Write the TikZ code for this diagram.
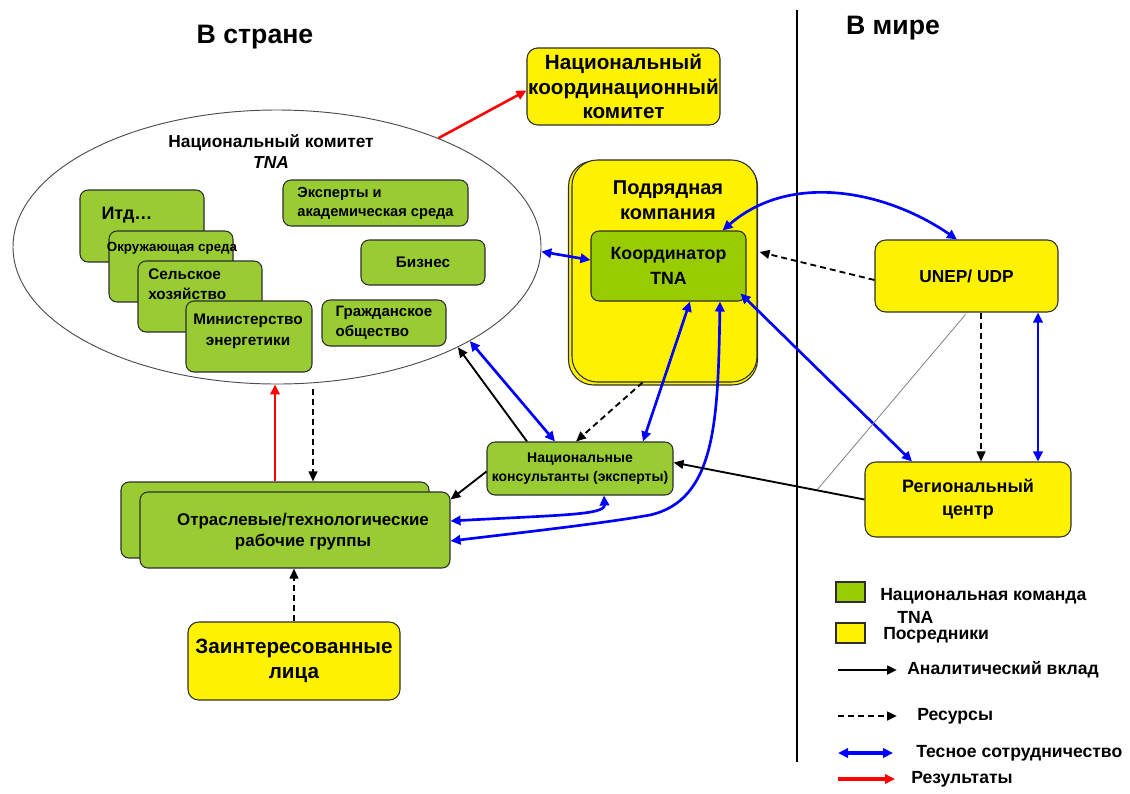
\documentclass[tikz,border=0pt]{standalone}
\usepackage{fontspec}
\setmainfont{Liberation Sans}
\usetikzlibrary{shapes.geometric,arrows.meta,calc}
\definecolor{tnagreen}{RGB}{153,204,51}
\definecolor{coordgreen}{RGB}{153,204,0}
\definecolor{edge}{RGB}{45,45,45}
\def\fs#1#2{\bfseries\fontsize{#1}{#2}\selectfont}
\tikzset{
  box/.style={draw=edge,line width=0.8pt,rounded corners=6pt,inner sep=0pt,align=center},
  gbox/.style={box,fill=tnagreen},
  ybox/.style={box,fill=yellow,rounded corners=8pt},
  headline/.style={font=\fs{20}{24}},
  legtxt/.style={anchor=west,inner sep=0pt,align=left,font=\fs{13.2}{17.25}},
  legsq/.style={draw=edge,line width=0.8pt,minimum width=21.75pt,minimum height=15pt,inner sep=0pt},
  ana/.style={-{Triangle[length=7.5pt,width=6.5pt]},line width=1.4pt},
  res/.style={ana,dash pattern=on 4.5pt off 3pt},
  coop/.style={{Triangle[length=7.5pt,width=7pt]}-{Triangle[length=7.5pt,width=7pt]},line width=2pt,blue},
  result/.style={-{Triangle[length=7.5pt,width=7pt]},line width=1.9pt,red},
}
\begin{document}
\begin{tikzpicture}[x=0.75pt,y=-0.75pt]
  \useasboundingbox (0,0) rectangle (1130,793);
  \node[headline] (home) at (255,37) {В стране};
  \node[headline] (world) at (893,28) {В мире};
  \coordinate (vtop) at (797,10);
  \coordinate (vbot) at (797,762);
  \draw[line width=1.2pt] (vtop) -- (vbot);

  \node[draw=edge!85,line width=0.7pt,ellipse,minimum width=396pt,minimum height=205.5pt,inner sep=0pt] (nc) at (277,247) {};
  \node[font=\fs{13}{15.75},align=center] (nctitle) at (271,152) {Национальный комитет\\\itshape TNA};
  \node[gbox,minimum width=93pt,minimum height=54pt] (itd) at (142,226) {};
  \node[font=\fs{13.5}{16}] (itdtext) at (127,215) {Итд…};
  \node[gbox,minimum width=93pt,minimum height=53.25pt] (env) at (171,266.5) {};
  \node[font=\fs{10}{12}] (envtext) at (172,248) {Окружающая среда};
  \node[gbox,minimum width=93pt,minimum height=53.25pt] (agri) at (200,296.5) {};
  \node[font=\fs{11.5}{15},align=left,anchor=west,inner sep=0pt] (agritext) at (148,284) {Сельское\\хозяйство};
  \node[gbox,minimum width=94.5pt,minimum height=53.25pt] (energy) at (249,336.5) {};
  \node[font=\fs{11.5}{15.75},align=center] (energytext) at (248,331.5) {Министерство\\энергетики};
  \node[gbox,minimum width=138.75pt,minimum height=34.5pt,align=left,font=\fs{11}{14.25}] (exp) at (375.5,203) {Эксперты и\\академическая среда};
  \node[gbox,minimum width=93pt,minimum height=33.75pt,font=\fs{11.5}{14}] (biz) at (423,262.5) {Бизнес};
  \node[gbox,minimum width=93pt,minimum height=34.5pt,align=left,font=\fs{11.3}{15}] (civ) at (384,323) {Гражданское\\общество};

  \node[ybox,minimum width=144.75pt,minimum height=57.75pt,font=\fs{15.5}{18.4}] (ncc) at (623.5,86.5) {Национальный\\координационный\\комитет};
  \node[ybox,rounded corners=19pt,minimum width=141.75pt,minimum height=168pt] (contrb) at (663,273) {};
  \node[ybox,rounded corners=19pt,minimum width=138.75pt,minimum height=166.5pt] (contr) at (664.5,271) {};
  \node[font=\fs{15}{18.75},align=center] (contrtitle) at (668,200.5) {Подрядная\\компания};
  \node[gbox,fill=coordgreen,minimum width=116.25pt,minimum height=52.5pt,font=\fs{13.3}{18.75}] (coord) at (668.5,266) {Координатор\\TNA};
  \node[ybox,minimum width=137.25pt,minimum height=54pt,font=\fs{13}{16}] (unep) at (966.5,276) {UNEP/ UDP};
  \node[ybox,minimum width=154.5pt,minimum height=56.25pt,font=\fs{13.5}{17.25}] (reg) at (968,499.5) {Региональный\\центр};
  \node[gbox,minimum width=139.5pt,minimum height=39.75pt,font=\fs{10.5}{14}] (cons) at (580,468.5) {Национальные\\консультанты (эксперты)};
  \node[gbox,minimum width=231pt,minimum height=57pt] (wgb) at (275,520) {};
  \node[gbox,minimum width=232.5pt,minimum height=57pt] (wg) at (295,530) {};
  \node[font=\fs{12.7}{15.75},align=center] (wgtext) at (303,532) {Отраслевые/технологические\\рабочие группы};
  \node[ybox,minimum width=159pt,minimum height=58.5pt,font=\fs{15.5}{18.75}] (stake) at (294,661) {Заинтересованные\\лица};

  \draw[result] (nc.34) -- ($(ncc.west)+(0,4)$);
  \draw[coop] (nc.-1) -- ($(coord.west)+(0,-6)$);
  \draw[ana] ($(cons.north)+(-53,0)$) -- (nc.-29);
  \draw[coop] (nc.-26) -- ($(cons.north)+(-25,0)$);
  \draw[res] ($(contr.south)+(-22,0)$) -- ($(cons.north)+(-4,0)$);
  \draw[coop] ($(coord.south)+(21.5,0)$) -- ($(cons.north)+(63,0)$);
  \draw[coop] ($(coord.south east)+(-6,-8)$) -- ($(reg.north)+(-56,0)$);
  \draw[coop] ($(coord.north)+(54,0)$) .. controls (790,172) and (885,190) .. ($(unep.north)+(-9.5,0)$);
  \draw[coop] ($(coord.south)+(51.5,0)$) .. controls (718,420) and (716,500) .. (650,515) .. controls (600,524) and (500,535) .. ($(wg.east)+(0,11)$);
  \draw[coop] ($(cons.south)+(24,0)$) .. controls (605,515) and (560,515) .. ($(wg.east)+(0,-9)$);
  \draw[res] ($(unep.west)+(0,4)$) -- ($(contr.east)+(2,-19)$);
  \draw[res] ($(unep.south)+(14.5,0)$) -- ($(reg.north)+(13,0)$);
  \draw[coop] ($(unep.south)+(71.5,0)$) -- ($(reg.north)+(70,0)$);
  \coordinate (thinend) at (817,490);
  \draw[gray,line width=0.6pt] ($(unep.south)+(-1,2)$) -- (thinend);
  \draw[ana] (reg.west) -- ($(cons.east)+(0,-6)$);
  \draw[ana] ($(cons.west)+(0,3)$) -- ($(wg.north east)+(0,8)$);
  \draw[result] (wgb.north) -- (wgb.north |- nc.south);
  \draw[res] ($(nc.south)+(36,5)$) -- ($(wgb.north)+(38,0)$);
  \draw[res] (stake.north) -- (wg.south -| stake.north);

  \node[legsq,fill=coordgreen] (lgreen) at (850.5,592) {};
  \node[legtxt] (lgreentext) at (880,605.5) {Национальная команда\\\hspace*{12.75pt}TNA};
  \node[legsq,fill=yellow] (lyellow) at (850.5,633) {};
  \node[legtxt] (lyellowtext) at (883,635) {Посредники};
  \foreach \yy/\st/\lw/\xe/\xt/\txt in {670/ana/2/897/907/Аналитический вклад,716/res/1.8/897/917/Ресурсы,753/coop/3/893/916/Тесное сотрудничество,779/result/2.6/895/911/Результаты}{
    \coordinate (la\yy) at (838,\yy);
    \coordinate (lb\yy) at (\xe,\yy);
    \draw[\st,line width=\lw pt] (la\yy) -- (lb\yy);
    \node[legtxt] (lt\yy) at (\xt,\yy) {\txt};
  }
\end{tikzpicture}
\end{document}
